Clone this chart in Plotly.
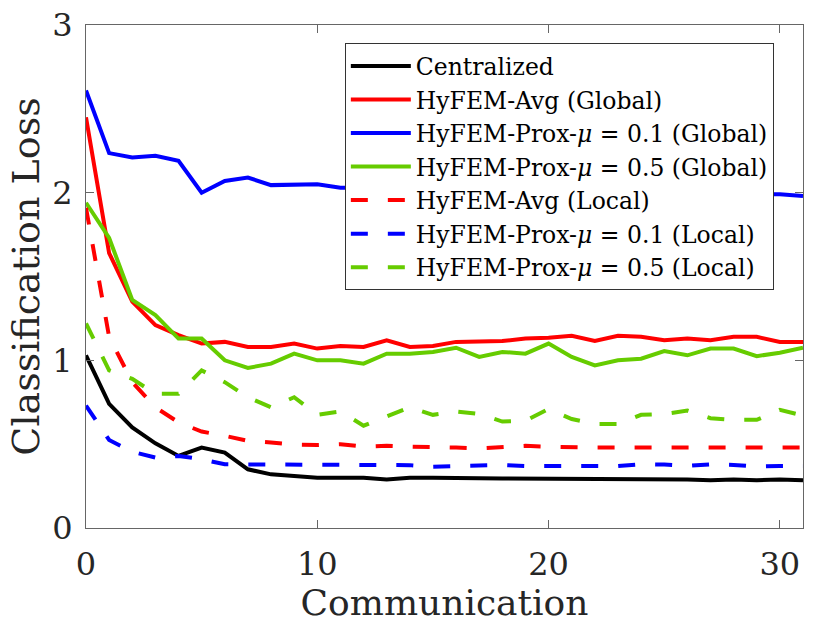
import plotly.graph_objects as go

# communication rounds
rounds = list(range(32))

centralized = [1.03, 0.74, 0.60, 0.505, 0.43, 0.48, 0.45, 0.35, 0.32, 0.31, 0.30, 0.30,
               0.30, 0.29, 0.30, 0.30, 0.296, 0.296, 0.295, 0.295, 0.29, 0.29, 0.29, 0.29,
               0.29, 0.29, 0.29, 0.285, 0.29, 0.285, 0.29, 0.285]
avg_global = [2.45, 1.64, 1.35, 1.21, 1.15, 1.10, 1.11, 1.08, 1.08, 1.10, 1.07, 1.085,
              1.08, 1.12, 1.08, 1.085, 1.11, 1.11, 1.115, 1.13, 1.135, 1.147, 1.115, 1.147,
              1.14, 1.12, 1.13, 1.12, 1.14, 1.14, 1.11, 1.11]
prox01_global = [2.61, 2.236, 2.21, 2.22, 2.19, 2.00, 2.07, 2.09, 2.045, 2.05, 2.05, 2.03,
                 2.03, 2.02, 2.02, 2.01, 2.02, 2.01, 2.00, 2.01, 2.00, 2.00, 1.99, 2.00,
                 1.99, 2.00, 1.99, 1.99, 1.98, 1.99, 1.99, 1.98]
prox05_global = [1.94, 1.73, 1.36, 1.27, 1.13, 1.13, 1.00, 0.955, 0.98, 1.04, 1.00, 1.00,
                 0.98, 1.04, 1.04, 1.05, 1.075, 1.02, 1.05, 1.04, 1.10, 1.02, 0.97, 1.00,
                 1.01, 1.055, 1.03, 1.07, 1.07, 1.025, 1.045, 1.075]
avg_local = [1.91, 1.14, 0.87, 0.72, 0.63, 0.575, 0.55, 0.52, 0.51, 0.497, 0.495, 0.50,
             0.485, 0.49, 0.485, 0.485, 0.48, 0.475, 0.48, 0.49, 0.485, 0.48, 0.48, 0.48,
             0.48, 0.48, 0.475, 0.48, 0.48, 0.48, 0.48, 0.48]
prox01_local = [0.73, 0.525, 0.455, 0.42, 0.43, 0.41, 0.38, 0.38, 0.377, 0.375, 0.377, 0.38,
                0.38, 0.38, 0.375, 0.365, 0.37, 0.376, 0.376, 0.37, 0.37, 0.376, 0.37, 0.37,
                0.38, 0.378, 0.37, 0.38, 0.376, 0.366, 0.37, 0.37]
prox05_local = [1.22, 0.94, 0.89, 0.80, 0.80, 0.94, 0.87, 0.78, 0.72, 0.78, 0.675, 0.695,
                0.61, 0.665, 0.72, 0.675, 0.695, 0.68, 0.635, 0.64, 0.71, 0.65, 0.62, 0.62,
                0.675, 0.68, 0.70, 0.655, 0.645, 0.645, 0.705, 0.67]

GREEN = "#66cc00"
series = [
    ("Centralized", centralized, "black", "solid"),
    ("HyFEM-Avg (Global)", avg_global, "#ff0000", "solid"),
    ("HyFEM-Prox-<i>μ</i> = 0.1 (Global)", prox01_global, "#0000ff", "solid"),
    ("HyFEM-Prox-<i>μ</i> = 0.5 (Global)", prox05_global, GREEN, "solid"),
    ("HyFEM-Avg (Local)", avg_local, "#ff0000", "17px,20px"),
    ("HyFEM-Prox-<i>μ</i> = 0.1 (Local)", prox01_local, "#0000ff", "17px,20px"),
    ("HyFEM-Prox-<i>μ</i> = 0.5 (Local)", prox05_local, GREEN, "17px,20px"),
]

fig = go.Figure()
for name, ys, color, dash in series:
    fig.add_trace(go.Scatter(x=rounds, y=ys, name=name, mode="lines",
                             line=dict(color=color, width=4, dash=dash)))

FONT = "DejaVu Serif, serif"
TXT = "#262626"
axis_style = dict(showline=True, linecolor="#666666", linewidth=1, mirror="ticks",
                  ticks="inside", ticklen=8, tickcolor="#666666", showgrid=False,
                  zeroline=False, automargin=False, ticklabeloverflow="allow",
                  tickfont=dict(family=FONT, size=32, color=TXT))

fig.update_xaxes(range=[0, 31], tickvals=[0, 10, 20, 30], ticklabelstandoff=8,
                 title=dict(text="Communication", font=dict(family=FONT, size=36, color=TXT),
                            standoff=0),
                 **axis_style)
fig.update_yaxes(range=[0, 3], tickvals=[0, 1, 2, 3], ticklabelstandoff=6,
                 title=dict(text="Classification Loss", font=dict(family=FONT, size=38, color=TXT),
                            standoff=0),
                 **axis_style)

fig.update_layout(
    width=830, height=623,
    margin=dict(l=86, r=27, t=25, b=95),
    plot_bgcolor="white", paper_bgcolor="white",
    font=dict(family=FONT, color=TXT),
    legend=dict(x=0.361, y=0.964, xanchor="left", yanchor="top",
                bgcolor="white", bordercolor="#333333", borderwidth=1,
                font=dict(family=FONT, size=23.5, color="black"), itemwidth=60,
                tracegroupgap=0),
)

# drop the browser's default body margin so the figure sits at the page corner
fig.write_html("out.html", config={"displayModeBar": False},
               post_script="document.body.style.margin = '0';")
